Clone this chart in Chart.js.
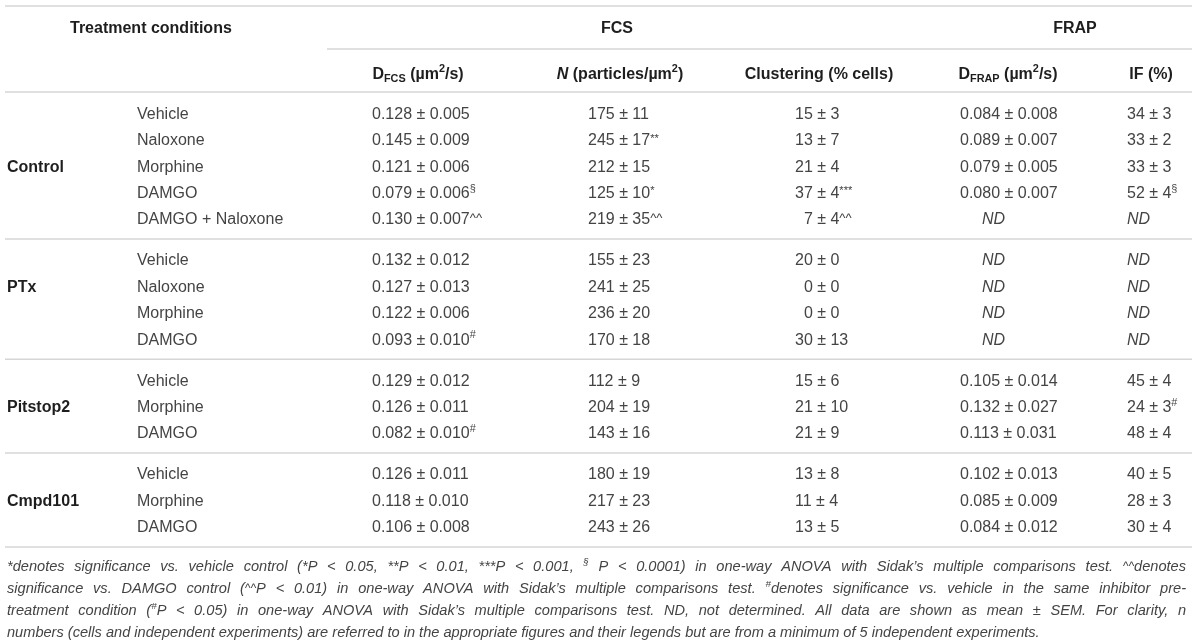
<!DOCTYPE html>
<html>
<head>
<meta charset="utf-8">
<script src="https://cdn.jsdelivr.net/npm/chart.js@4.4.1/dist/chart.umd.min.js"></script>
<style>
    html, body { margin: 0; padding: 0; background: #fff; }
    canvas { display: block; }
</style>
</head>
<body>
<canvas id="tableChart" width="1200" height="643"></canvas>
<script>
// ---- table data (rows top to bottom, null = ND) ----
const groups = ['Control', 'PTx', 'Pitstop2', 'Cmpd101'];
const treatments = [
    ['Vehicle', 'Naloxone', 'Morphine', 'DAMGO', 'DAMGO + Naloxone'],
    ['Vehicle', 'Naloxone', 'Morphine', 'DAMGO'],
    ['Vehicle', 'Morphine', 'DAMGO'],
    ['Vehicle', 'Morphine', 'DAMGO'],
];

const dFcsMean = [0.128, 0.145, 0.121, 0.079, 0.130, 0.132, 0.127, 0.122, 0.093, 0.129, 0.126, 0.082, 0.126, 0.118, 0.106];
const dFcsSem  = [0.005, 0.009, 0.006, 0.006, 0.007, 0.012, 0.013, 0.006, 0.010, 0.012, 0.011, 0.010, 0.011, 0.010, 0.008];
const dFcsSig  = ['', '', '', '§', '^^', '', '', '', '#', '', '', '#', '', '', ''];

const nMean = [175, 245, 212, 125, 219, 155, 241, 236, 170, 112, 204, 143, 180, 217, 243];
const nSem  = [11, 17, 15, 10, 35, 23, 25, 20, 18, 9, 19, 16, 19, 23, 26];
const nSig  = ['', '**', '', '*', '^^', '', '', '', '', '', '', '', '', '', ''];

const clusterMean = [15, 13, 21, 37, 7, 20, 0, 0, 30, 15, 21, 21, 13, 11, 13];
const clusterSem  = [3, 7, 4, 4, 4, 0, 0, 0, 13, 6, 10, 9, 8, 4, 5];
const clusterSig  = ['', '', '', '***', '^^', '', '', '', '', '', '', '', '', '', ''];

const dFrapMean = [0.084, 0.089, 0.079, 0.080, null, null, null, null, null, 0.105, 0.132, 0.113, 0.102, 0.085, 0.084];
const dFrapSem  = [0.008, 0.007, 0.005, 0.007, null, null, null, null, null, 0.014, 0.027, 0.031, 0.013, 0.009, 0.012];

const ifMean = [34, 33, 33, 52, null, null, null, null, null, 45, 24, 48, 40, 28, 30];
const ifSem  = [3, 2, 3, 4, null, null, null, null, null, 4, 3, 4, 5, 3, 4];
const ifSig  = ['', '', '', '§', '', '', '', '', '', '', '#', '', '', '', ''];

const spanHeaders = ['FCS', 'FRAP'];
const columnHeaders = ['D_{FCS} (µm^{2}/s)', '~{N} (particles/µm^{2})', 'Clustering (% cells)', 'D_{FRAP} (µm^{2}/s)', 'IF (%)'];

const footnoteLines = [
    '*denotes significance vs. vehicle control (*P < 0.05, **P < 0.01, ***P < 0.001, ^{§} P < 0.0001) in one-way ANOVA with Sidak’s multiple comparisons test. `{^^}denotes',
    'significance vs. DAMGO control (`{^^}P < 0.01) in one-way ANOVA with Sidak’s multiple comparisons test. ^{#}denotes significance vs. vehicle in the same inhibitor pre-',
    'treatment condition (^{#}P < 0.05) in one-way ANOVA with Sidak’s multiple comparisons test. ND, not determined. All data are shown as mean ± SEM. For clarity, n',
    'numbers (cells and independent experiments) are referred to in the appropriate figures and their legends but are from a minimum of 5 independent experiments.',
];

// ---- layout ----
const layout = {
    topLine: 6, headRow1: 27, spanLine: 49, headRow2: 73, headLine: 92,
    firstRow: 113, rowPitch: 26.4, groupGap: 20.5,
    footTop: 566, footPitch: 22, footRight: 1186,
    lineLeft: 5, lineRight: 1192, spanLeft: 327,
    groupX: 7, treatX: 137, treatHeadX: 70,
    spanX: [617, 1075],
    colHeadX: [418, 620, 819, 1008, 1151],
    colX: [372, 588, 795, 960, 1127],
    ndIndent: [0, 0, 0, 22, 0],
};

const FONT = '"Liberation Sans", Arial, Helvetica, sans-serif';
const BODY = '#444444';
const HEAD = '#1e1e1e';
const RULE = '#d6d6d6';

function sigMark(s) {
    if (!s) return '';
    if (s === '§' || s === '#') return '^{' + s + '}';
    return '`{' + s + '}';
}

function fmt(mean, sem, dec, pad, sig) {
    if (mean === null) return '~{ND}';
    let m = dec ? mean.toFixed(dec) : String(mean);
    const e = dec ? sem.toFixed(dec) : String(sem);
    m = m.padStart(pad, '\u2007');
    return m + ' ± ' + e + sigMark(sig);
}

function parseRich(str) {
    const segs = [];
    let buf = '';
    let i = 0;
    while (i < str.length) {
        const c = str[i];
        if ('^_~`'.includes(c) && str[i + 1] === '{') {
            if (buf) { segs.push({ text: buf, kind: '' }); buf = ''; }
            const end = str.indexOf('}', i + 2);
            segs.push({ text: str.slice(i + 2, end), kind: c });
            i = end + 1;
        } else {
            buf += c;
            i++;
        }
    }
    if (buf) segs.push({ text: buf, kind: '' });
    return segs;
}

function segSize(seg, o) {
    if (seg.kind === '`') return o.size * (seg.text.includes('^') ? 0.82 : 0.7);
    if (seg.kind === '^' || seg.kind === '_') return o.size * 0.68;
    return o.size;
}

function segFont(seg, o) {
    const italic = o.italic || seg.kind === '~';
    return (italic ? 'italic ' : '') + o.weight + ' ' + segSize(seg, o) + 'px ' + FONT;
}

function segShift(seg, o) {
    if (seg.kind === '^') return -0.4 * o.size;
    if (seg.kind === '_') return 0.2 * o.size;
    if (seg.kind === '`') return (seg.text.includes('^') ? -0.12 : -0.22) * o.size;
    return 0;
}

function drawRich(ctx, str, x, cy, o) {
    const segs = parseRich(str);
    let width = 0;
    let spaces = 0;
    segs.forEach(seg => {
        ctx.font = segFont(seg, o);
        seg.w = ctx.measureText(seg.text).width;
        width += seg.w;
        spaces += (seg.text.match(/ /g) || []).length;
    });
    let px = o.align === 'center' ? x - width / 2 : x;
    const extra = o.justifyTo && spaces ? Math.max(0, (o.justifyTo - width) / spaces) : 0;
    const base = cy + o.size * 0.36;
    ctx.fillStyle = o.color;
    ctx.textBaseline = 'alphabetic';
    ctx.textAlign = 'left';
    segs.forEach(seg => {
        ctx.font = segFont(seg, o);
        const y = base + segShift(seg, o);
        if (!extra) {
            ctx.fillText(seg.text, px, y);
            px += seg.w;
            return;
        }
        seg.text.split(/( )/).forEach(part => {
            if (!part) return;
            ctx.fillText(part, px, y);
            px += ctx.measureText(part).width + (part === ' ' ? extra : 0);
        });
    });
}

// row positions from the group structure
const rowY = [];
const sepY = [];
const groupLabelY = [];
let yCursor = layout.firstRow;
treatments.forEach(list => {
    list.forEach((t, r) => {
        rowY.push(yCursor);
        if (r === Math.floor((list.length - 1) / 2)) groupLabelY.push(yCursor);
        yCursor += layout.rowPitch;
    });
    yCursor -= layout.rowPitch;
    sepY.push(yCursor + layout.groupGap);
    yCursor += 2 * layout.groupGap;
});

const treatmentRows = treatments.flat();
const cellColumns = [
    dFcsMean.map((m, i) => fmt(m, dFcsSem[i], 3, 0, dFcsSig[i])),
    nMean.map((m, i) => fmt(m, nSem[i], 0, 3, nSig[i])),
    clusterMean.map((m, i) => fmt(m, clusterSem[i], 0, 2, clusterSig[i])),
    dFrapMean.map((m, i) => fmt(m, dFrapSem[i], 3, 0, '')),
    ifMean.map((m, i) => fmt(m, ifSem[i], 0, 2, ifSig[i])),
];

const tablePlugin = {
    id: 'tableCells',
    afterDraw(chart) {
        const ctx = chart.ctx;
        const sx = chart.scales.x;
        const sy = chart.scales.y;
        const X = v => sx.getPixelForValue(v);
        const Y = v => sy.getPixelForValue(v);
        ctx.save();

        // rules
        ctx.strokeStyle = RULE;
        ctx.lineWidth = 1.5;
        const hline = (y, x0, x1) => {
            ctx.beginPath();
            ctx.moveTo(X(x0), Y(y));
            ctx.lineTo(X(x1), Y(y));
            ctx.stroke();
        };
        hline(layout.topLine, layout.lineLeft, layout.lineRight);
        hline(layout.spanLine, layout.spanLeft, layout.lineRight);
        hline(layout.headLine, layout.lineLeft, layout.lineRight);
        sepY.forEach(y => hline(y, layout.lineLeft, layout.lineRight));

        const head = { size: 16, weight: 'bold', color: HEAD };
        const body = { size: 16, weight: 'normal', color: BODY };

        drawRich(ctx, 'Treatment conditions', X(layout.treatHeadX), Y(layout.headRow1), head);
        spanHeaders.forEach((h, i) => {
            drawRich(ctx, h, X(layout.spanX[i]), Y(layout.headRow1), { ...head, align: 'center' });
        });
        columnHeaders.forEach((h, i) => {
            drawRich(ctx, h, X(layout.colHeadX[i]), Y(layout.headRow2), { ...head, align: 'center' });
        });

        groups.forEach((g, i) => {
            drawRich(ctx, g, X(layout.groupX), Y(groupLabelY[i]), head);
        });
        treatmentRows.forEach((t, i) => {
            drawRich(ctx, t, X(layout.treatX), Y(rowY[i]), body);
        });
        cellColumns.forEach((col, c) => {
            col.forEach((cell, i) => {
                const indent = cell === '~{ND}' ? layout.ndIndent[c] : 0;
                drawRich(ctx, cell, X(layout.colX[c] + indent), Y(rowY[i]), body);
            });
        });

        const foot = { size: 14.6, weight: 'normal', italic: true, color: BODY };
        footnoteLines.forEach((line, i) => {
            const justify = i < footnoteLines.length - 1 ? X(layout.footRight) - X(layout.groupX) : 0;
            drawRich(ctx, line, X(layout.groupX), Y(layout.footTop + i * layout.footPitch), { ...foot, justifyTo: justify });
        });

        ctx.restore();
    },
};

new Chart(document.getElementById('tableChart'), {
    type: 'scatter',
    data: { datasets: [] },
    options: {
        responsive: false,
        animation: false,
        layout: { padding: 0 },
        plugins: { legend: { display: false }, tooltip: { enabled: false } },
        scales: {
            x: { type: 'linear', min: 0, max: 1200, display: false },
            y: { type: 'linear', min: 0, max: 643, reverse: true, display: false },
        },
    },
    plugins: [tablePlugin],
});
</script>
</body>
</html>
